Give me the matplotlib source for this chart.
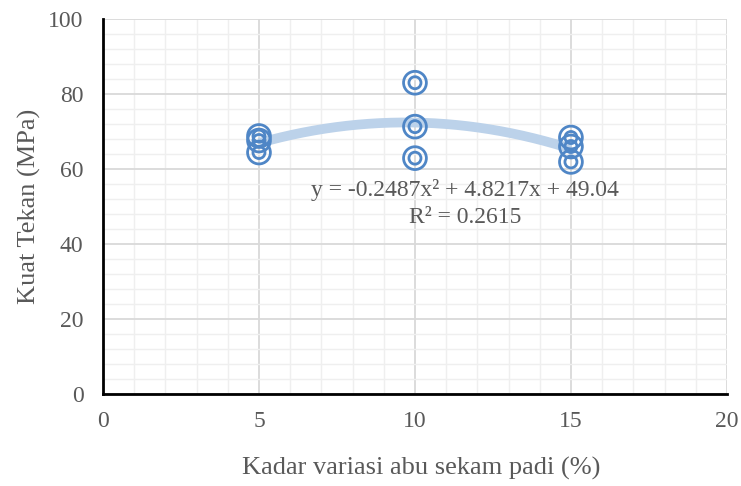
"""Kuat tekan vs kadar abu sekam padi, with polynomial trendline."""

import matplotlib
matplotlib.use("Agg")
import matplotlib.pyplot as plt
import numpy as np
from matplotlib.ticker import MultipleLocator

# ── data ──────────────────────────────────────────────────────────────────
kadar = [5, 5, 5, 10, 10, 10, 15, 15, 15]
kuat_tekan = [68.8, 67.6, 64.4, 83.0, 71.3, 62.9, 68.4, 66.0, 61.9]
trend_coef = [-0.2487, 4.8217, 49.04]
eq_text = "y = -0.2487x² + 4.8217x + 49.04"
r2_text = "R² = 0.2615"

# ── style ─────────────────────────────────────────────────────────────────
plt.rcParams["font.family"] = ["Liberation Serif", "DejaVu Serif"]
TEXT = "#595959"
BLUE = "#4f86c6"
TREND = "#bcd2ea"

fig = plt.figure(figsize=(7.41, 4.86), dpi=100)
ax = fig.add_axes([0.139, 0.189, 0.842, 0.772])

xs = np.linspace(5, 15, 200)
ax.plot(xs, np.polyval(trend_coef, xs), color=TREND, linewidth=7,
        solid_capstyle="butt", zorder=2)

ax.scatter(kadar, kuat_tekan, s=270, facecolors="none", edgecolors=BLUE,
           linewidths=2.0, zorder=3)
ax.scatter(kadar, kuat_tekan, s=75, facecolors="none", edgecolors=BLUE,
           linewidths=2.0, zorder=3)

ax.set_xlim(0, 20)
ax.set_ylim(0, 100)
ax.xaxis.set_major_locator(MultipleLocator(5))
ax.xaxis.set_minor_locator(MultipleLocator(1))
ax.yaxis.set_major_locator(MultipleLocator(20))
ax.yaxis.set_minor_locator(MultipleLocator(4))
ax.grid(which="major", color="#d9d9d9", linewidth=1.3, zorder=0)
ax.grid(which="minor", color="#efefef", linewidth=1.0, zorder=0)
ax.set_axisbelow(True)

for side in ["top", "right"]:
    ax.spines[side].set_visible(False)
for side in ["left", "bottom"]:
    ax.spines[side].set_color("black")
    ax.spines[side].set_linewidth(2)

ax.tick_params(which="both", length=0, labelsize=17, labelcolor=TEXT)
ax.tick_params(axis="x", pad=12)
ax.tick_params(axis="y", pad=14)

ax.set_xlabel("Kadar variasi abu sekam padi (%)", fontsize=19, color=TEXT)
ax.xaxis.set_label_coords(0.51, -0.168)
ax.set_ylabel("Kuat Tekan (MPa)", fontsize=19, color=TEXT, labelpad=5)

ax.text(11.6, 54.5, eq_text, fontsize=17, color=TEXT, ha="center", va="center")
ax.text(11.6, 47.2, r2_text, fontsize=17, color=TEXT, ha="center", va="center")

fig.savefig("out.png", dpi=100)
